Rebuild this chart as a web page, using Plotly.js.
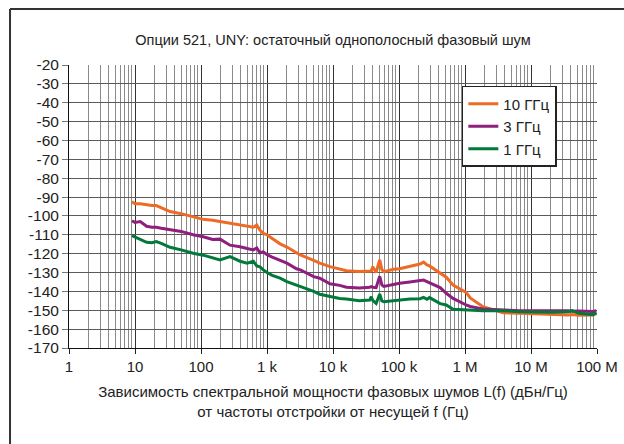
<!DOCTYPE html>
<html>
<head>
<meta charset="utf-8">
<script src="https://cdn.plot.ly/plotly-3.0.1.min.js"></script>
<style>
html,body{margin:0;padding:0;background:#fff;overflow:hidden;}
#chart{width:624px;height:444px;}
</style>
</head>
<body>
<div id="chart"></div>
<script>
// Offset frequency, Hz
const freqHz = [9, 10, 12, 15, 18, 21, 25, 34, 50, 76, 108, 150, 194, 275, 390, 500, 620, 700, 780, 880,
  1000, 1200, 1580, 2000, 2800, 3200, 5100, 6300, 9000, 12600, 16000, 25000, 36000, 38000, 40000, 45000,
  51000, 55000, 59000, 83000, 102000, 146000, 208000, 236000, 265000, 290000, 420000, 520000, 660000,
  1040000, 1200000, 1700000, 1870000, 2700000, 3800000, 6700000, 12000000, 21000000, 37000000, 42000000,
  53000000, 87000000, 98000000];

// L(f), dBc/Hz
const noise10GHz = [-92.5, -93.5, -93.5, -94.2, -94.5, -94.5, -95.8, -97.7, -98.8, -100.4, -101.8, -102.3, -103, -103.9, -104.8, -105.5, -106, -104.8, -107.5, -109.2,
  -110, -112, -114.8, -116.5, -119.5, -120.7, -123.5, -125, -126.9, -128.3, -129, -129.5, -129.5, -129.2, -126.9, -130,
  -123.3, -128.5, -129.5, -128.3, -128, -126.9, -125.5, -124.5, -126, -126.5, -130.4, -132.5, -136.6,
  -140.5, -143.5, -147.2, -148.1, -149.8, -151.3, -151.6, -152, -152.2, -152.5, -152.3,
  -152.6, -152.5, -151.8];

const noise3GHz = [-102.5, -103.5, -103, -105.5, -106, -106, -106.5, -107.4, -108.2, -110, -111, -112.5, -112.3, -115.5, -116.3, -117.3, -118, -117, -119.5, -119,
  -120.5, -121.8, -123.6, -125, -128, -128.6, -132.2, -133, -136, -136.8, -137.8, -138.2, -137.8, -137.5, -137.8, -138,
  -132, -136.5, -137.4, -136.3, -135.7, -135, -134.4, -134, -134.8, -135.5, -138, -141, -143.7,
  -147.2, -148, -149, -149.3, -149.6, -149.9, -150.2, -150.3, -150.2, -150.2, -150.5,
  -150.4, -150.6, -150.3];

const noise1GHz = [-110.5, -111.3, -112.7, -114, -114.2, -113.6, -114.5, -116.6, -118, -119.8, -120.8, -122, -123.3, -121.6, -124, -125, -124, -126.5, -127, -128.6,
  -130, -131.5, -133, -134.8, -136.6, -137.5, -140, -141.5, -142.8, -143.8, -144, -145, -144.6, -142.8, -144.8, -146.4,
  -141.4, -145, -145.5, -145, -144.6, -144, -143.9, -143.2, -144.2, -143.3, -146.5, -147.2, -149.5,
  -149.8, -150.2, -150.1, -150.3, -150.3, -150.2, -150.8, -151.1, -151.1, -150.8, -150.2,
  -151.6, -152.3, -151.2];

const seriesNames = ['10 ГГц', '3 ГГц', '1 ГГц'];
const seriesColors = ['#ED6B25', '#8E1F7E', '#00793A'];

const decadeVals = [1, 10, 100, 1e3, 1e4, 1e5, 1e6, 1e7, 1e8];
const decadeLabels = ['1', '10', '100', '1 k', '10 k', '100 k', '1 M', '10 M', '100 M'];

const yTickVals = [-20, -30, -40, -50, -60, -70, -80, -90, -100, -110, -120, -130, -140, -150, -160, -170];
const yTickLabels = ['-20', '-30', '-40', '-50', '-60', '-70', '-80', '-90', '-100', '-110', '-120', '-130', '-140', '-150', '-160', '-170'];

const minorVals = [];
for (let d = 0; d < 8; d++) {
  for (let m = 2; m <= 9; m++) minorVals.push(m * Math.pow(10, d));
}

const allSeries = [noise10GHz, noise3GHz, noise1GHz];
const traces = allSeries.map((ys, i) => ({
  x: freqHz, y: ys, type: 'scatter', mode: 'lines', name: seriesNames[i],
  line: {color: seriesColors[i], width: 3}, hoverinfo: 'skip'
}));

const FONT = '"Liberation Sans", Arial, sans-serif';

const layout = {
  width: 624, height: 444,
  margin: {l: 69, r: 27, t: 65, b: 96},
  paper_bgcolor: '#ffffff', plot_bgcolor: '#ffffff',
  font: {family: FONT, size: 15, color: '#222'},
  showlegend: true,
  title: {text: 'Опции 521, UNY: остаточный однополосный фазовый шум',
    x: 0.5, xref: 'paper', xanchor: 'center', y: 0.91, yref: 'container', yanchor: 'middle',
    font: {family: FONT, size: 14.5, color: '#222'}},
  xaxis: {
    type: 'log', range: [0, 8], tickmode: 'array', tickvals: decadeVals, ticktext: decadeLabels,
    ticks: 'outside', ticklen: 5, tickcolor: '#222', tickwidth: 1,
    showline: true, linecolor: '#111', linewidth: 1, mirror: false,
    showgrid: true, gridcolor: '#333', gridwidth: 1, zeroline: false,
    tickfont: {family: FONT, size: 15, color: '#222'},
    minor: {tickmode: 'array', tickvals: minorVals, showgrid: true, gridcolor: '#8a8a8a', gridwidth: 1, ticks: ''},
    title: {text: 'Зависимость спектральной мощности фазовых шумов L(f) (дБн/Гц)<br>от частоты отстройки от несущей f (Гц)',
      font: {family: FONT, size: 15, color: '#222'}, standoff: 12}
  },
  yaxis: {
    range: [-170, -20], tickmode: 'array', tickvals: yTickVals, ticktext: yTickLabels,
    ticks: 'outside', ticklen: 6, tickcolor: '#777', tickwidth: 1,
    showline: true, linecolor: '#111', linewidth: 1,
    tickfont: {family: FONT, size: 15.5, color: '#222'},
    showgrid: true, gridcolor: '#5a5a5a', gridwidth: 1, zeroline: false
  },
  legend: {
    x: 0.744, y: 0.926, xanchor: 'left', yanchor: 'top',
    bgcolor: '#ffffff', bordercolor: '#222', borderwidth: 1.5,
    font: {family: FONT, size: 15, color: '#222'}, itemwidth: 30, tracegroupgap: 0
  },
  shapes: [
    {type: 'line', xref: 'paper', yref: 'paper', x0: -0.1117, x1: 1.2, y0: 1.198, y1: 1.198, line: {color: '#333', width: 2}},
    {type: 'line', xref: 'paper', yref: 'paper', x0: -0.1117, x1: -0.1117, y0: 1.198, y1: -0.4, line: {color: '#333', width: 2}}
  ]
};

Plotly.newPlot('chart', traces, layout, {staticPlot: true, displayModeBar: false});
</script>
</body>
</html>
